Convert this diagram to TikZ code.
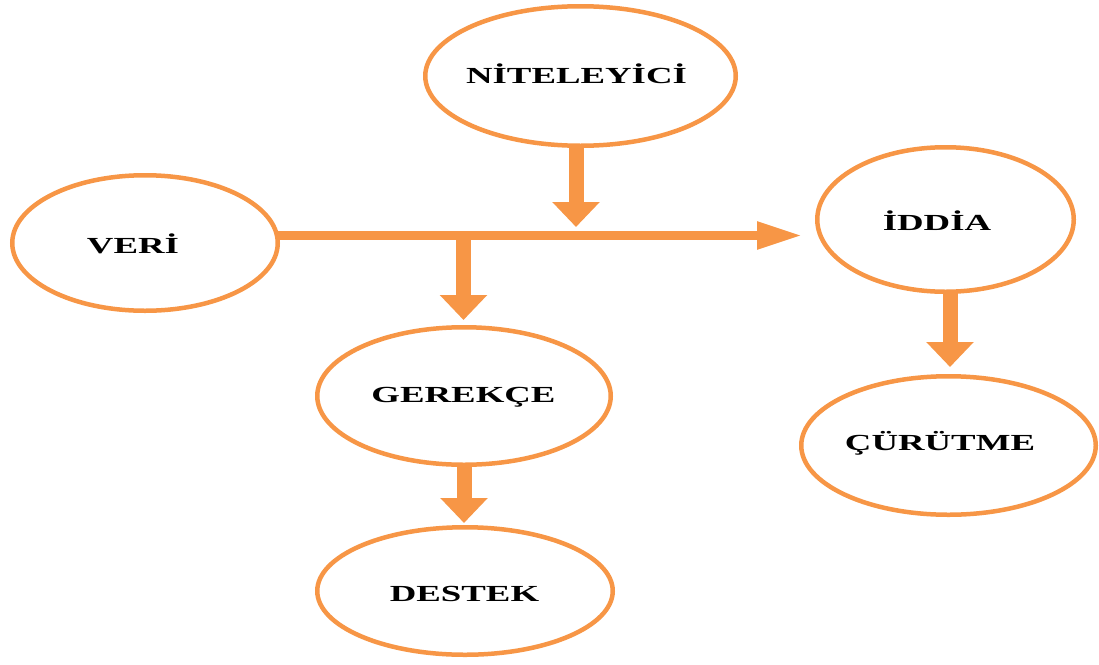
\documentclass[tikz,border=0pt]{standalone}
\usepackage{fontspec}
\setmainfont{Liberation Serif}
\usepackage{graphicx}
\usetikzlibrary{shapes.geometric,arrows.meta}
\definecolor{orng}{HTML}{F79646}
\newcommand\widetxt[1]{\scalebox{1.6}[1]{#1}}
\tikzset{
  oval/.style={ellipse, draw=orng, line width=4.5pt, inner sep=0pt, outer sep=0pt, fill=white},
  lbl/.style={inner sep=0pt, text height=15.2pt, text depth=0pt, font=\fontsize{23}{26}\selectfont\bfseries, text=black},
  varrow/.style={draw=orng, line width=15pt, -{Triangle[width=46pt,length=25pt]}},
  harrow/.style={draw=orng, line width=8.5pt, -{Triangle[width=26pt,length=45pt]}}
}
\begin{document}
\begin{tikzpicture}[x=1pt,y=-1pt]
\useasboundingbox (0,0) rectangle (1099,664);
% ellipses
\node[oval, minimum width=310.5pt, minimum height=139.5pt] (nit) at (580.5,76) {};
\node[oval, minimum width=265.5pt, minimum height=135.5pt] (veri) at (145,243) {};
\node[oval, minimum width=256.5pt, minimum height=144.5pt] (iddia) at (945.5,219.5) {};
\node[oval, minimum width=293.5pt, minimum height=137.5pt] (gerekce) at (464,396) {};
\node[oval, minimum width=294.5pt, minimum height=138.5pt] (curutme) at (948.5,445.5) {};
\node[oval, minimum width=295.5pt, minimum height=127.5pt] (destek) at (465,591) {};
% labels
\node[lbl] (nit-t) at (576.5,75.5) {\widetxt{NİTELEYİCİ}};
\node[lbl] (veri-t) at (133,245.5) {\widetxt{VERİ}};
\node[lbl] (iddia-t) at (937,223) {\widetxt{İDDİA}};
\node[lbl] (gerekce-t) at (463.5,394.5) {\widetxt{GEREKÇE}};
\node[lbl] (curutme-t) at (940,443) {\widetxt{ÇÜRÜTME}};
\node[lbl] (destek-t) at (464.5,594) {\widetxt{DESTEK}};
% junction coordinates
\coordinate (hl) at (0,235.5);
\coordinate (j1) at (576,227);
\coordinate (j2) at (463.5,235.5);
% connectors
\draw[harrow, shorten >=15.25pt] (veri.east |- hl) -- (iddia.west |- hl);
\draw[varrow] (nit.south -| j1) -- (j1);
\draw[varrow, shorten >=7.25pt] (j2) -- (j2 |- gerekce.north);
\draw[varrow, shorten >=9.25pt] ([xshift=4.5pt]iddia.south) -- ([xshift=4.5pt]iddia.south |- curutme.north);
\draw[varrow, shorten >=4.25pt] (gerekce.south) -- (gerekce.south |- destek.north);
\end{tikzpicture}
\end{document}
